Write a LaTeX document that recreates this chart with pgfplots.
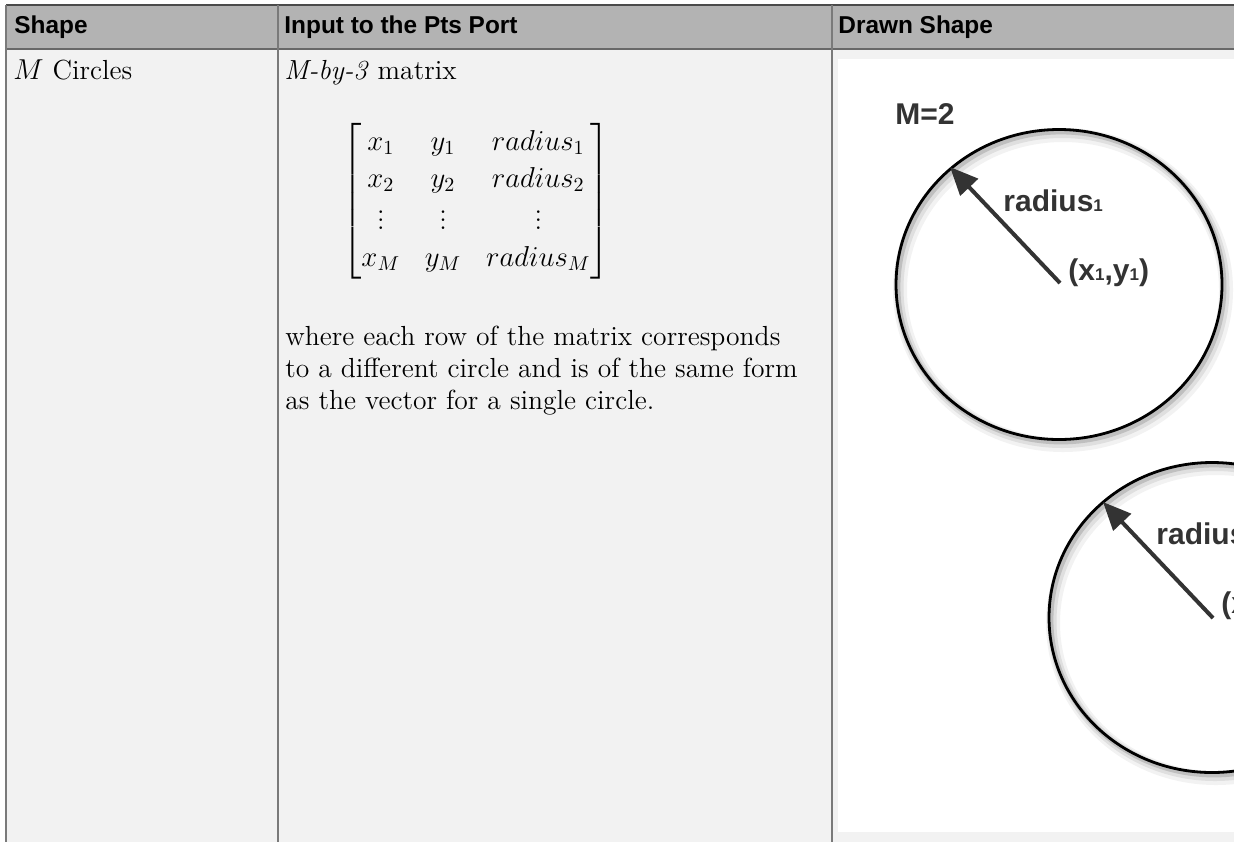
\documentclass[border=0pt]{standalone}
\usepackage{amsmath}
\usepackage{fontspec}
\usepackage{pgfplots}
\pgfplotsset{compat=1.18}
\usetikzlibrary{arrows.meta}
\newfontfamily\hdfont{Liberation Sans}
\definecolor{hdrgray}{HTML}{B3B3B3}
\definecolor{bodygray}{HTML}{F2F2F2}
\definecolor{linegray}{HTML}{7A7A7A}
\definecolor{topline}{HTML}{4A4A4A}
\definecolor{ink}{HTML}{333333}
\newcommand{\bodyfont}{\fontsize{13.8}{16.5}\selectfont}
\newcommand{\hfont}{\hdfont\bfseries\fontsize{12.2}{14}\selectfont}
\newcommand{\lfont}{\hdfont\bfseries\fontsize{15}{18}\selectfont}
\newcommand{\sub}[1]{{\fontsize{8.5}{10}\selectfont #1}}
\begin{document}
\begin{tikzpicture}
\begin{axis}[width=617pt,height=421pt,scale only axis,
  xmin=0,xmax=1234,ymin=0,ymax=842,y dir=reverse,hide axis,clip=true]
\coordinate (ll) at (axis cs:0,842);
\coordinate (ur) at (axis cs:1234,0);
% backgrounds
\fill[white] (axis cs:0,0) rectangle (axis cs:1234,842);
\fill[hdrgray] (axis cs:6,5) rectangle (axis cs:1234,49);
\fill[bodygray] (axis cs:6,49) rectangle (axis cs:1234,842);
\fill[white] (axis cs:838,59) rectangle (axis cs:1234,832);
% table rules
\addplot[draw=topline, line width=1pt, mark=none] coordinates {(6,5) (1234,5)};
\addplot[draw=linegray!85!black, line width=1pt, mark=none] coordinates {(6,49) (1234,49)};
\addplot[draw=linegray, line width=1.1pt, mark=none] coordinates {(6,5) (6,842)};
\addplot[draw=linegray, line width=1.1pt, mark=none] coordinates {(278,5) (278,842)};
\addplot[draw=linegray, line width=1.1pt, mark=none] coordinates {(832,5) (832,842)};
% headers
\node[anchor=base west, inner sep=0, font=\hfont] at (axis cs:14,33) {Shape};
\node[anchor=base west, inner sep=0, font=\hfont] at (axis cs:284,33) {Input to the Pts Port};
\node[anchor=base west, inner sep=0, font=\hfont] at (axis cs:838,33) {Drawn Shape};
% column 1 and 2 text
\node[anchor=base west, inner sep=0, font=\bodyfont] at (axis cs:13,79) {$M$ Circles};
\node[anchor=base west, inner sep=0, font=\bodyfont] at (axis cs:284,79) {\textit{M-by-3} matrix};
\node[inner sep=0, font=\bodyfont] at (axis cs:476,201) {\renewcommand{\arraystretch}{1.12}\setlength{\arraycolsep}{6.2pt}$\begin{bmatrix} x_1 & y_1 & radius_1\\ x_2 & y_2 & radius_2\\ \vdots & \vdots & \vdots\\ x_M & y_M & radius_M\end{bmatrix}$};
\node[anchor=base west, inner sep=0, font=\bodyfont] at (axis cs:285,345) {where each row of the matrix corresponds};
\node[anchor=base west, inner sep=0, font=\bodyfont] at (axis cs:285,377) {to a different circle and is of the same form};
\node[anchor=base west, inner sep=0, font=\bodyfont] at (axis cs:285,409) {as the vector for a single circle.};
% circle 1 shadow and outline
\draw[black, opacity=0.05, line width=7pt] (axis cs:1063,290) ellipse [x radius=81.5pt, y radius=77.5pt];
\draw[black, opacity=0.08, line width=4.5pt] (axis cs:1062,288.5) ellipse [x radius=81.5pt, y radius=77.5pt];
\draw[black, opacity=0.14, line width=2.4pt] (axis cs:1061,287) ellipse [x radius=81.5pt, y radius=77.5pt];
\draw[black, line width=1.4pt] (axis cs:1059,284.5) ellipse [x radius=81.5pt, y radius=77.5pt];
% circle 2 shadow and outline
\draw[black, opacity=0.05, line width=7pt] (axis cs:1216,623) ellipse [x radius=81.5pt, y radius=77.5pt];
\draw[black, opacity=0.08, line width=4.5pt] (axis cs:1215,621.5) ellipse [x radius=81.5pt, y radius=77.5pt];
\draw[black, opacity=0.14, line width=2.4pt] (axis cs:1214,620) ellipse [x radius=81.5pt, y radius=77.5pt];
\draw[black, line width=1.4pt] (axis cs:1212,617.5) ellipse [x radius=81.5pt, y radius=77.5pt];
% arrows
\addplot[draw=ink, line width=2pt, mark=none, -{Triangle[length=14pt,width=12pt]}] coordinates {(1060,283) (950,167)};
\addplot[draw=ink, line width=2pt, mark=none, -{Triangle[length=14pt,width=12pt]}] coordinates {(1213,618) (1103,502)};
% labels
\node[anchor=base west, inner sep=0, font=\lfont, text=ink] at (axis cs:895,124) {M=2};
\node[anchor=base west, inner sep=0, font=\lfont, text=ink] at (axis cs:1003,211) {radius\sub{1}};
\node[anchor=base west, inner sep=0, font=\lfont, text=ink] at (axis cs:1068,280) {(x\sub{1},y\sub{1})};
\node[anchor=base west, inner sep=0, font=\lfont, text=ink] at (axis cs:1156,544) {radius\sub{2}};
\node[anchor=base west, inner sep=0, font=\lfont, text=ink] at (axis cs:1221,613) {(x\sub{2},y\sub{2})};
\end{axis}
\pgfresetboundingbox
\path[use as bounding box] (ll) rectangle (ur);
\end{tikzpicture}
\end{document}
